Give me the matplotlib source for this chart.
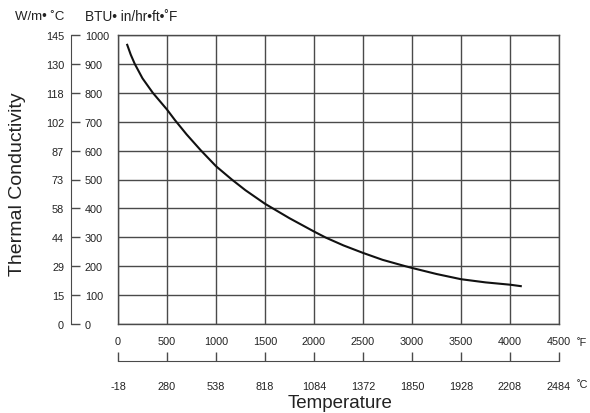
import matplotlib
matplotlib.use("Agg")
import matplotlib.pyplot as plt

plt.rcParams['font.family'] = ['Liberation Sans', 'DejaVu Sans']

# curve (deg F, BTU in/hr ft F)
temp_f = [94, 130, 171, 250, 355, 500, 580, 700, 842, 1000, 1161, 1300, 1500, 1750, 2000, 2120,
          2300, 2500, 2700, 2932, 3000, 3250, 3500, 3750, 4000, 4110]
cond = [966, 932, 900, 850, 800, 742, 706, 656, 602, 546, 500, 463, 416, 366, 320, 299,
        272, 246, 222, 200, 194, 173, 155, 144, 136, 131]

btu_ticks = [0, 100, 200, 300, 400, 500, 600, 700, 800, 900, 1000]
wm_labels = ["0", "15", "29", "44", "58", "73", "87", "102", "118", "130", "145"]
f_ticks = [0, 500, 1000, 1500, 2000, 2500, 3000, 3500, 4000, 4500]
c_labels = ["-18", "280", "538", "818", "1084", "1372", "1850", "1928", "2208", "2484"]

W, H = 590, 414
fig = plt.figure(figsize=(W / 100, H / 100), dpi=100)

grid_col = "#4a4a4a"
txt_col = "#222222"
left, right, top, bottom = 118, 559, 36, 325

ax = fig.add_axes([left / W, 1 - bottom / H, (right - left) / W, (bottom - top) / H])
ax.plot(temp_f, cond, color="#111111", lw=1.5, solid_joinstyle="round")
ax.set_xlim(0, 4500)
ax.set_ylim(0, 1000)
ax.set_xticks(f_ticks)
ax.set_yticks(btu_ticks)
ax.tick_params(length=0, labelleft=False, labelbottom=False)
ax.grid(True, color=grid_col, lw=1.0)
for s in ax.spines.values():
    s.set_color(grid_col)
    s.set_linewidth(1.0)

# left double axis
axl = fig.add_axes([71 / W, 1 - bottom / H, 0.0001, (bottom - top) / H])
axl.set_ylim(0, 1000)
axl.set_xticks([])
for k in ["top", "bottom", "right"]:
    axl.spines[k].set_visible(False)
axl.spines["left"].set_color(grid_col)
axl.set_yticks(btu_ticks)
axl.set_yticklabels(wm_labels, fontsize=7.8, color=txt_col)
axl.tick_params(axis="y", direction="in", length=6.5, width=1.0, color=grid_col, pad=5)
axr = axl.twinx()
axr.set_ylim(0, 1000)
for s in axr.spines.values():
    s.set_visible(False)
axr.set_yticks(btu_ticks)
axr.set_yticklabels([str(v) for v in btu_ticks], fontsize=7.8, color=txt_col)
axr.tick_params(axis="y", length=0, pad=10)

# bottom double axis
axb = fig.add_axes([left / W, 1 - 362 / H, (right - left) / W, 0.0001])
axb.set_xlim(0, 4500)
axb.set_yticks([])
for k in ["top", "left", "right"]:
    axb.spines[k].set_visible(False)
axb.spines["bottom"].set_color(grid_col)
axb.set_xticks(f_ticks)
axb.set_xticklabels(c_labels, fontsize=7.8, color=txt_col)
axb.tick_params(axis="x", direction="in", length=6.5, width=1.0, color=grid_col, pad=14.5)
axt = axb.twiny()
axt.set_xlim(0, 4500)
for s in axt.spines.values():
    s.set_visible(False)
axt.set_xticks(f_ticks)
axt.set_xticklabels([str(v) for v in f_ticks], fontsize=7.8, color=txt_col)
axt.xaxis.set_ticks_position("top")
axt.tick_params(axis="x", length=0, pad=11)

fig.text(577 / W, 1 - 343 / H, "˚F", fontsize=7.8, va="center", ha="left", color=txt_col)
fig.text(577 / W, 1 - 385 / H, "˚C", fontsize=7.8, va="center", ha="left", color=txt_col)

fig.text(15 / W, 1 - 17 / H, "W/m• ˚C", fontsize=9.5, va="center", ha="left", color=txt_col)
fig.text(85 / W, 1 - 17 / H, "BTU• in/hr•ft•˚F", fontsize=9.8, va="center", ha="left", color=txt_col)

fig.text(18 / W, 1 - 184 / H, "Thermal Conductivity", fontsize=14, rotation=90,
         va="center", ha="center", color=txt_col)
fig.text(340 / W, 1 - 404 / H, "Temperature", fontsize=13.5, va="center", ha="center", color=txt_col)

fig.savefig("out.png", dpi=100)
